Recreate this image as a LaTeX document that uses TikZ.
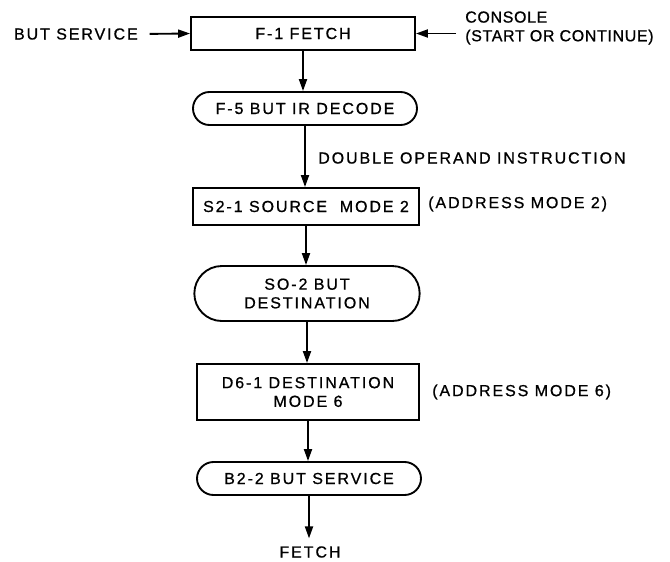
\documentclass[tikz,border=0pt]{standalone}
\usepackage{fontspec}
\newfontfamily\lettering[LetterSpace=12, FakeBold=0.8]{Liberation Sans}
\newfontfamily\letteringtight[LetterSpace=4, FakeBold=0.8]{Liberation Sans}
\usepackage{tikz}
\usetikzlibrary{arrows.meta, shapes.misc}

\begin{document}
\begin{tikzpicture}[x=0.75pt,y=0.75pt,yscale=-1,xscale=1,
	every node/.style={font=\lettering\fontsize{12}{14}\selectfont},
	flowbox/.style={draw, line width=1.4pt, inner sep=0pt, align=center},
	roundbox/.style={flowbox, rounded rectangle},
	flow/.style={line width=1.4pt, -{Triangle[length=9pt,width=6pt]}},
	note/.style={inner sep=0.75pt, align=left}]
		\useasboundingbox (0,0) rectangle (670,561);

		%Shape: Rectangle [fetch]
		\node (fetch) [flowbox, minimum width=168pt, minimum height=24.75pt] at (303,33.5) {F-1 FETCH};
		%Shape: Rounded Rectangle [ir decode]
		\node (irdecode) [roundbox, minimum width=168pt, minimum height=24.75pt] at (305,108.5) {F-5 BUT IR DECODE};
		%Shape: Rectangle [source mode]
		\node (srcmode) [flowbox, minimum width=169pt, minimum height=27.75pt] at (306,206.5) {S2-1 SOURCE \ MODE 2};
		%Shape: Rounded Rectangle [destination]
		\node (butdest) [roundbox, minimum width=169pt, minimum height=41.25pt] at (307,293.5) {SO-2 BUT\\DESTINATION};
		%Shape: Rectangle [destination mode]
		\node (dstmode) [flowbox, minimum width=167pt, minimum height=42pt] at (308,392) {D6-1 DESTINATION\\MODE 6};
		%Shape: Rounded Rectangle [service]
		\node (butsvc) [roundbox, minimum width=168pt, minimum height=24.75pt] at (309,478.5) {B2-2 BUT SERVICE};

		% Text Node
		\node (butin) [note, anchor=east] at (139,34) {BUT SERVICE};
		% Text Node
		\node (console) [note, anchor=west, font=\letteringtight\fontsize{12}{14}\selectfont] at (464,28) {CONSOLE\\(START OR CONTINUE)};
		% Text Node
		\node (dblop) [note, anchor=west] at (317,158) {DOUBLE OPERAND INSTRUCTION};
		% Text Node
		\node (addrtwo) [note, anchor=west] at (427,204) {(ADDRESS MODE 2)};
		% Text Node
		\node (addrsix) [note, anchor=west] at (431,392) {(ADDRESS MODE 6)};
		% Text Node
		\node (nextfetch) [note] at (310,552) {FETCH};

		%Straight Lines
		\draw [flow, shorten <=8pt] (butin.east) -- (fetch.west);
		\draw [flow, shorten <=6pt] (console.west |- fetch.east) -- (fetch.east);
		%Straight Lines
		\draw [flow] (fetch.south) -- (fetch.south |- irdecode.north);
		\draw [flow] (irdecode.south) -- (irdecode.south |- srcmode.north);
		\draw [flow] (srcmode.south) -- (srcmode.south |- butdest.north);
		\draw [flow] (butdest.south) -- (butdest.south |- dstmode.north);
		\draw [flow] (dstmode.south) -- (dstmode.south |- butsvc.north);
		\draw [flow, shorten >=5pt] (butsvc.south) -- (butsvc.south |- nextfetch.north);

\end{tikzpicture}
\end{document}
